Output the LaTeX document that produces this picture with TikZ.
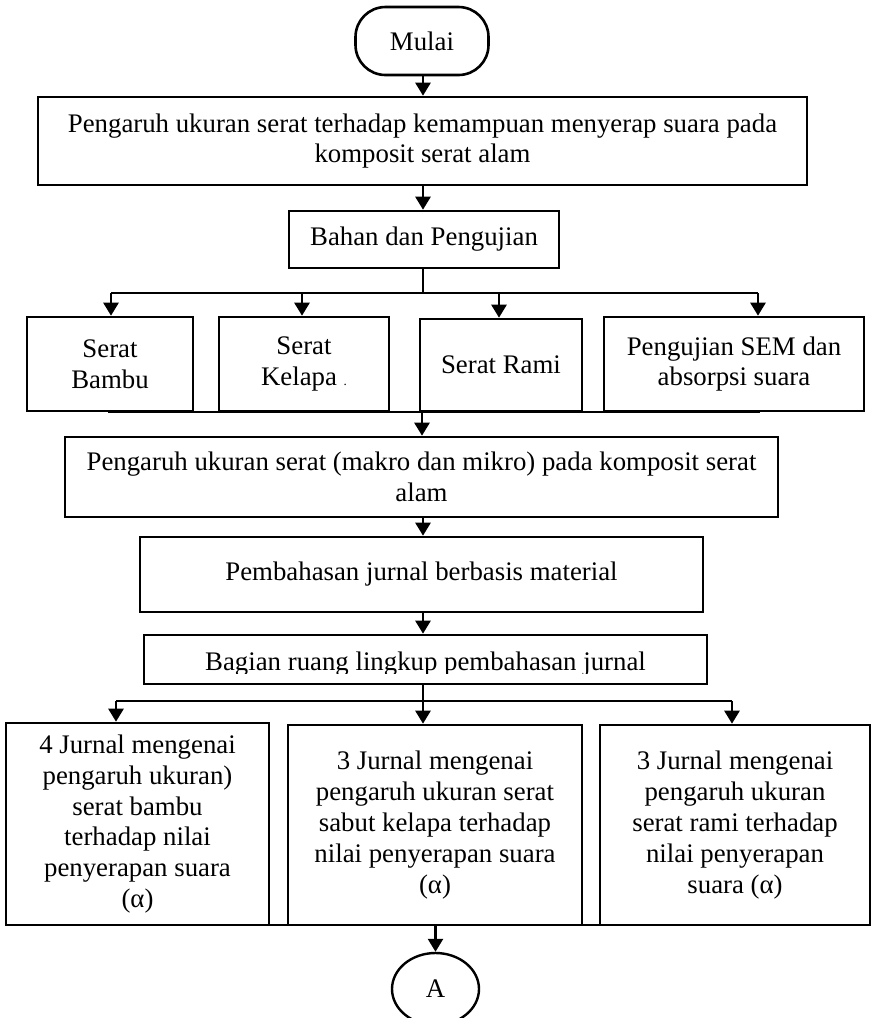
\documentclass[tikz,border=0pt]{standalone}
\usepackage{fontspec}
\setmainfont{Liberation Serif}
\usetikzlibrary{arrows.meta,shapes.geometric}
\begin{document}
\begin{tikzpicture}[x=1pt,y=-1pt,
  every node/.style={font=\fontsize{26.8}{30.8}\selectfont},
  box/.style={draw, line width=2.6pt, inner sep=0pt, align=center},
  arr/.style={line width=2.6pt, -{Triangle[width=15pt,length=13pt]}},
  ln/.style={line width=2.6pt}]
\useasboundingbox (0,0) rectangle (873,1018);
% nodes
\node[box, rounded corners=30pt, minimum width=133pt, minimum height=68pt] (mulai) at (422,41) {Mulai};
\node[box, minimum width=769pt, minimum height=88pt] (b1) at (422.5,141) {Pengaruh ukuran serat terhadap kemampuan menyerap suara pada\\komposit serat alam};
\node[box, minimum width=270pt, minimum height=57pt] (b2) at (424,239.5) {Bahan dan Pengujian};
\node[box, minimum width=166pt, minimum height=94pt] (sA) at (110,364) {Serat\\Bambu};
\node[box, minimum width=170pt, minimum height=94pt] (sB) at (304,364) {Serat\\Kelapa {\fontsize{13}{13}\selectfont .}};
\node[box, minimum width=162pt, minimum height=92pt] (sC) at (501,365) {Serat Rami};
\node[box, minimum width=260pt, minimum height=94pt] (sD) at (734,364) {Pengujian SEM dan\\absorpsi suara};
\node[box, minimum width=713pt, minimum height=80pt] (b3) at (421.5,477) {Pengaruh ukuran serat (makro dan mikro) pada komposit serat\\alam};
\node[box, minimum width=563pt, minimum height=75pt] (b4) at (421.5,574.5) {Pembahasan jurnal berbasis material};
\node[box, minimum width=563pt, minimum height=49pt] (b5) at (425.5,659.5) {};
\begin{scope}
\clip (146,637) rectangle (705,673);
\node[inner sep=0pt, anchor=base] (b5t) at (425.5,670) {Bagian ruang lingkup pembahasan jurnal};
\end{scope}
\node[box, minimum width=263pt, minimum height=202pt] (jH) at (137.5,824) {4 Jurnal mengenai\\pengaruh ukuran)\\serat bambu\\terhadap nilai\\penyerapan suara\\(α)};
\node[box, minimum width=294pt, minimum height=200pt] (jI) at (435,825) {3 Jurnal mengenai\\pengaruh ukuran serat\\sabut kelapa terhadap\\nilai penyerapan suara\\(α)};
\node[box, minimum width=270pt, minimum height=200pt] (jJ) at (735,825) {3 Jurnal mengenai\\pengaruh ukuran\\serat rami terhadap\\nilai penyerapan\\suara (α)};
\node[draw, ellipse, line width=2.4pt, inner sep=0pt, minimum width=87pt, minimum height=72pt] (A) at (435.5,989) {A};
% junction coordinates
\coordinate (j1) at (423,293);
\coordinate (jA) at (111,293);
\coordinate (jB) at (302,293);
\coordinate (jC) at (499,293);
\coordinate (jD) at (758,293);
\coordinate (mL) at (108,412);
\coordinate (mR) at (760,412);
\coordinate (m1) at (422,412);
\coordinate (k1) at (423,701);
\coordinate (kH) at (116,701);
\coordinate (kI) at (423,701);
\coordinate (kJ) at (732,701);
\coordinate (nL) at (116,925);
\coordinate (nR) at (732,925);
\coordinate (n1) at (435.5,925);
% connectors
\draw[arr] (mulai.south -| 423,0) -- (423,0 |- b1.north);
\draw[arr] (b1.south -| 423,0) -- (423,0 |- b2.north);
\draw[ln] (b2.south -| j1) -- (j1);
\draw[ln] (jA) -- (jD);
\draw[arr] (jA) -- (jA |- sA.north);
\draw[arr] (jB) -- (jB |- sB.north);
\draw[arr] (jC) -- (jC |- sC.north);
\draw[arr] (jD) -- (jD |- sD.north);
\draw[ln] (mL) -- (mR);
\draw[arr] (m1) -- (m1 |- b3.north);
\draw[arr] (b3.south -| 423,0) -- (423,0 |- b4.north);
\draw[arr] (b4.south -| 423,0) -- (423,0 |- b5.north);
\draw[ln] (b5.south -| k1) -- (k1);
\draw[ln] (kH) -- (kJ);
\draw[arr] (kH) -- (kH |- jH.north);
\draw[arr] (kI) -- (kI |- jI.north);
\draw[arr] (kJ) -- (kJ |- jJ.north);
\draw[ln] (nL) -- (nR);
\draw[arr] (n1) -- (A.north);
\end{tikzpicture}
\end{document}
